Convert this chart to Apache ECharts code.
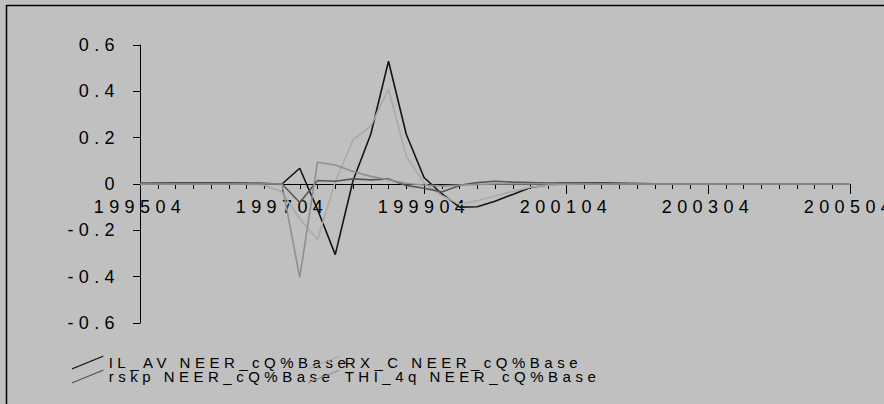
<!DOCTYPE html>
<html>
<head>
<meta charset="utf-8">
<script src="https://cdn.jsdelivr.net/npm/echarts@6/dist/echarts.min.js"></script>
<style>
  html, body { margin: 0; padding: 0; background: #c0c0c0; }
  #chart { width: 884px; height: 404px; }
  #chart text { letter-spacing: 0.3em; }
</style>
</head>
<body>
<div id="chart"></div>
<script>
// Quarterly periods (YYYYMM, first month of each quarter)
const quarters = [
  '199504','199507','199510',
  '199601','199604','199607','199610',
  '199701','199704','199707','199710',
  '199801','199804','199807','199810',
  '199901','199904','199907','199910',
  '200001','200004','200007','200010',
  '200101','200104','200107','200110',
  '200201','200204','200207','200210',
  '200301','200304','200307','200310',
  '200401','200404','200407','200410',
  '200501','200504'
];

// Responses, % deviation from base
const ilAv = [0.002,0.003,0.004,0.004,0.004,0.004,0.003,0.002,
  0.000,0.068,-0.110,-0.305,0.014,0.215,0.530,0.215,0.028,-0.042,-0.100,-0.098,
  -0.074,-0.045,-0.015,-0.004,0.002,0.004,0.004,0.003,0.002,0.001,
  0,0,0,0,0,0,0,0,0,0,0];
const rxC = [0,0,0,0,0,0,0,-0.005,
  -0.035,-0.150,-0.240,0.010,0.190,0.250,0.410,0.120,0.005,-0.050,-0.088,-0.072,
  -0.052,-0.032,-0.014,-0.005,-0.002,0,0,0,0,0,
  0,0,0,0,0,0,0,0,0,0,0];
const rskp = [0.003,0.003,0.003,0.003,0.003,0.003,0.003,0.002,
  0.000,-0.080,0.015,0.012,0.022,0.018,0.022,-0.006,-0.018,-0.034,-0.006,0.006,
  0.012,0.008,0.006,0.004,0.005,0.004,0.002,0.001,0,0,
  0,0,0,0,0,0,0,0,0,0,0];
const thi4q = [0,0,0,0,0,0,0,0,
  0.000,-0.403,0.094,0.082,0.054,0.033,0.018,0.002,-0.004,-0.008,-0.005,-0.002,
  0,0,0,0,0,0,0,0,0,0,
  0,0,0,0,0,0,0,0,0,0,0];

const seriesNames = [
  'IL_AV NEER_cQ%Base',
  'RX_C NEER_cQ%Base',
  'rskp NEER_cQ%Base',
  'THI_4q NEER_cQ%Base'
];
const seriesData = [ilAv, rxC, rskp, thi4q];
const seriesColors = ['#141414', '#a9a9a9', '#565656', '#8f8f8f'];

// y-axis range and step; x-axis labelled every 8 quarters
const yMin = -0.6, yMax = 0.6, yStep = 0.2;
const labelEvery = 8;

const FONT = '"Liberation Sans", Arial, sans-serif';
const slantIcon = 'path://M0,13 L32,0 L32,1.3 L0,14.3 Z';

// plot area; the time axis sits on the zero line, halfway up the plot
const gridBox = { left: 140, right: 34, top: 45, bottom: 81 };
const plotHeight = 404 - gridBox.top - gridBox.bottom;
const zeroOffset = -plotHeight * (0 - yMin) / (yMax - yMin);

const legendSlots = [
  { left: 72,  top: 355 },
  { left: 308, top: 355 },
  { left: 72,  top: 369 },
  { left: 308, top: 369 }
];

const chart = echarts.init(document.getElementById('chart'), null, { renderer: 'svg' });

chart.setOption({
  backgroundColor: '#c0c0c0',
  animation: false,
  grid: gridBox,
  legend: seriesNames.map((name, i) => ({
    data: [name],
    left: legendSlots[i].left,
    top: legendSlots[i].top,
    padding: 0,
    icon: slantIcon,
    itemWidth: 32,
    itemHeight: 14,
    selectedMode: false,
    textStyle: { fontSize: 15, color: '#000', fontFamily: FONT }
  })),
  xAxis: {
    type: 'value',
    min: 0,
    max: quarters.length - 1,
    interval: labelEvery,
    position: 'bottom',
    offset: zeroOffset,
    axisLine: { show: true, onZero: false, lineStyle: { color: '#000', width: 1 } },
    axisTick: { show: true, length: 10, lineStyle: { color: '#000' } },
    minorTick: { show: true, splitNumber: labelEvery, length: 5, lineStyle: { color: '#000' } },
    axisLabel: {
      fontSize: 18, color: '#000', fontFamily: FONT, margin: 14,
      showMinLabel: true, showMaxLabel: true,
      formatter: v => quarters[v]
    },
    splitLine: { show: false },
    minorSplitLine: { show: false }
  },
  yAxis: {
    type: 'value',
    min: yMin, max: yMax, interval: yStep,
    axisLine: { show: true, onZero: false, lineStyle: { color: '#000', width: 1 } },
    axisTick: { show: true, length: 7, lineStyle: { color: '#000' } },
    axisLabel: {
      fontSize: 18, color: '#000', fontFamily: FONT, margin: 20,
      formatter: v => String(Math.round(v * 10) / 10)
    },
    splitLine: { show: false }
  },
  graphic: [
    { type: 'line', silent: true, shape: { x1: 6, y1: 5.5, x2: 884, y2: 5.5 },
      style: { stroke: '#000', lineWidth: 1.5 } },
    { type: 'line', silent: true, shape: { x1: 6.5, y1: 5, x2: 6.5, y2: 404 },
      style: { stroke: '#000', lineWidth: 1.5 } }
  ],
  series: seriesNames.map((name, i) => ({
    name,
    type: 'line',
    data: seriesData[i].map((v, q) => [q, v]),
    showSymbol: false,
    symbol: 'none',
    color: seriesColors[i],
    lineStyle: { color: seriesColors[i], width: 1.6 },
    itemStyle: { color: seriesColors[i] },
    emphasis: { disabled: true }
  }))
});
</script>
</body>
</html>
